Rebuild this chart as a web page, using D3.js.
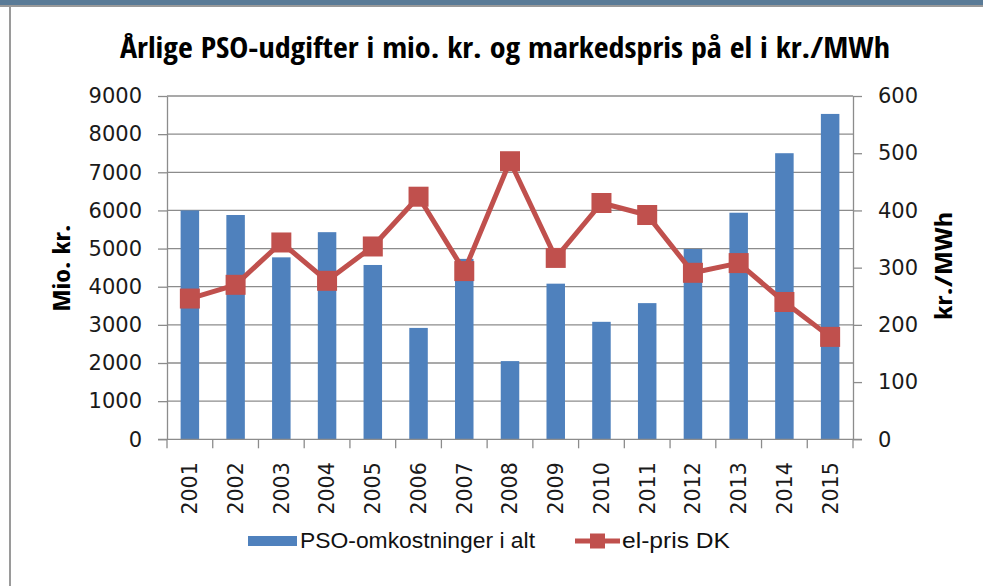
<!DOCTYPE html>
<html><head><meta charset="utf-8">
<script src="https://cdn.jsdelivr.net/npm/d3@7"></script>
<style>
html,body{margin:0;padding:0;background:#fff;}
svg{display:block;}
</style>
</head><body>
<svg id="chart" width="983" height="586"></svg>
<script>
const years = ["2001","2002","2003","2004","2005","2006","2007","2008","2009","2010","2011","2012","2013","2014","2015"];
const psoCost = [6000,5880,4770,5430,4570,2920,4730,2050,4080,3080,3570,4990,5940,7500,8530];
const elPrice = [246,270,344,277,337,424,294,486,317,413,392,291,308,240,179];
const leftTicks = [0,1000,2000,3000,4000,5000,6000,7000,8000,9000];
const rightTicks = [0,100,200,300,400,500,600];
const titleText = "Årlige PSO-udgifter i mio. kr. og markedspris på el i kr./MWh";
const leftLabel = "Mio. kr.";
const rightLabel = "kr./MWh";
const seriesNames = ["PSO-omkostninger i alt","el-pris DK"];

const svg = d3.select("#chart");
const W = 983, H = 586;
const plot = {left:167, right:853, top:96, bottom:439.3};
const BLUE = "#4f81bd", RED = "#c0504d", GRID = "#8c8c8c";
const narrow = "'Liberation Sans Narrow','Arial Narrow','Open Sans Condensed','Liberation Sans',sans-serif";
const regular = "'Liberation Sans',Arial,sans-serif";
const tickFont = "'DejaVu Sans',Verdana,sans-serif";

svg.append("rect").attr("width",W).attr("height",H).attr("fill","#fff");
// frame
svg.append("rect").attr("x",0).attr("y",0).attr("width",W).attr("height",5).attr("fill","#5a7b97");
svg.append("rect").attr("x",0).attr("y",5).attr("width",W).attr("height",2).attr("fill","#9a9a9a");
svg.append("rect").attr("x",9).attr("y",5).attr("width",2).attr("height",H-5).attr("fill","#9a9a9a");

const x = d3.scaleBand().domain(years).range([plot.left, plot.right]).padding(0);
const yL = d3.scaleLinear().domain([0,9000]).range([plot.bottom, plot.top]);
const yR = d3.scaleLinear().domain([0,600]).range([plot.bottom, plot.top]);
const cx = d => x(d) + x.bandwidth()/2;

// gridlines
svg.append("g").selectAll("line").data(leftTicks.filter(v=>v>0)).join("line")
  .attr("x1",plot.left).attr("x2",plot.right)
  .attr("y1",d=>yL(d)).attr("y2",d=>yL(d))
  .attr("stroke",GRID).attr("stroke-width",1.3);

// bars
const barW = 18.5;
svg.append("g").selectAll("rect").data(years).join("rect")
  .attr("x",d=>cx(d)-barW/2).attr("width",barW)
  .attr("y",(d,i)=>yL(psoCost[i])).attr("height",(d,i)=>yL(0)-yL(psoCost[i]))
  .attr("fill",BLUE);

// left axis
const gL = svg.append("g").attr("transform",`translate(${plot.left},0)`)
  .call(d3.axisLeft(yL).tickValues(leftTicks).tickSizeInner(9).tickSizeOuter(0).tickPadding(16).tickFormat(d3.format("d")));
gL.select(".domain").attr("stroke",GRID).attr("stroke-width",1.3);
gL.selectAll(".tick line").attr("stroke",GRID).attr("stroke-width",1.3);
gL.selectAll("text").attr("font-family",tickFont).attr("font-size",21).attr("fill","#1a1a1a");

// right axis
const gR = svg.append("g").attr("transform",`translate(${plot.right},0)`)
  .call(d3.axisRight(yR).tickValues(rightTicks).tickSizeInner(9).tickSizeOuter(0).tickPadding(16).tickFormat(d3.format("d")));
gR.select(".domain").attr("stroke",GRID).attr("stroke-width",1.3);
gR.selectAll(".tick line").attr("stroke",GRID).attr("stroke-width",1.3);
gR.selectAll("text").attr("font-family",tickFont).attr("font-size",21).attr("fill","#1a1a1a");

// x axis
const gX = svg.append("g").attr("transform",`translate(0,${plot.bottom})`);
gX.append("line").attr("x1",plot.left-9).attr("x2",plot.right+9).attr("y1",0).attr("y2",0)
  .attr("stroke",GRID).attr("stroke-width",1.3);
const bounds = years.map(d=>x(d)).concat([plot.right]);
gX.selectAll("line.tk").data(bounds).join("line").attr("class","tk")
  .attr("x1",d=>d).attr("x2",d=>d).attr("y1",0).attr("y2",9)
  .attr("stroke",GRID).attr("stroke-width",1.3);
gX.selectAll("text").data(years).join("text")
  .attr("transform",d=>`translate(${cx(d)},23) rotate(-90)`)
  .attr("text-anchor","end").attr("dy","0.36em")
  .attr("font-family",tickFont).attr("font-size",20.5).attr("fill","#1a1a1a")
  .text(d=>d);

// line series
const line = d3.line().x((d,i)=>cx(years[i])).y(d=>yR(d));
svg.append("path").datum(elPrice).attr("d",line)
  .attr("fill","none").attr("stroke",RED).attr("stroke-width",5).attr("stroke-linejoin","round");
const mk = 20;
svg.append("g").selectAll("rect").data(elPrice).join("rect")
  .attr("x",(d,i)=>cx(years[i])-mk/2).attr("y",d=>yR(d)-mk/2)
  .attr("width",mk).attr("height",mk).attr("fill",RED);

// title
svg.append("text").attr("x",505).attr("y",58).attr("text-anchor","middle")
  .attr("font-family",narrow).attr("font-weight","bold").attr("font-size",28)
  .attr("textLength",770).attr("lengthAdjust","spacingAndGlyphs").attr("fill","#000")
  .text(titleText);

// axis titles
svg.append("text").attr("transform","translate(70,268) rotate(-90)").attr("text-anchor","middle")
  .attr("font-family",narrow).attr("font-weight","bold").attr("font-size",24)
  .attr("textLength",87).attr("lengthAdjust","spacingAndGlyphs").text(leftLabel);
svg.append("text").attr("transform","translate(952,266) rotate(-90)").attr("text-anchor","middle")
  .attr("font-family",narrow).attr("font-weight","bold").attr("font-size",24)
  .attr("textLength",108).attr("lengthAdjust","spacingAndGlyphs").text(rightLabel);

// legend
const lg = svg.append("g");
lg.append("rect").attr("x",248).attr("y",536).attr("width",49).attr("height",10).attr("fill",BLUE);
lg.append("text").attr("x",300).attr("y",547.5).attr("font-family",regular).attr("font-weight","normal").attr("font-size",22)
  .attr("textLength",235).attr("lengthAdjust","spacingAndGlyphs").attr("fill","#111").text(seriesNames[0]);
lg.append("line").attr("x1",575).attr("x2",620).attr("y1",541).attr("y2",541).attr("stroke",RED).attr("stroke-width",5);
lg.append("rect").attr("x",590).attr("y",533.5).attr("width",15).attr("height",15).attr("fill",RED);
lg.append("text").attr("x",622).attr("y",547.5).attr("font-family",regular).attr("font-weight","normal").attr("font-size",22)
  .attr("textLength",108).attr("lengthAdjust","spacingAndGlyphs").attr("fill","#111").text(seriesNames[1]);
</script>
</body></html>
